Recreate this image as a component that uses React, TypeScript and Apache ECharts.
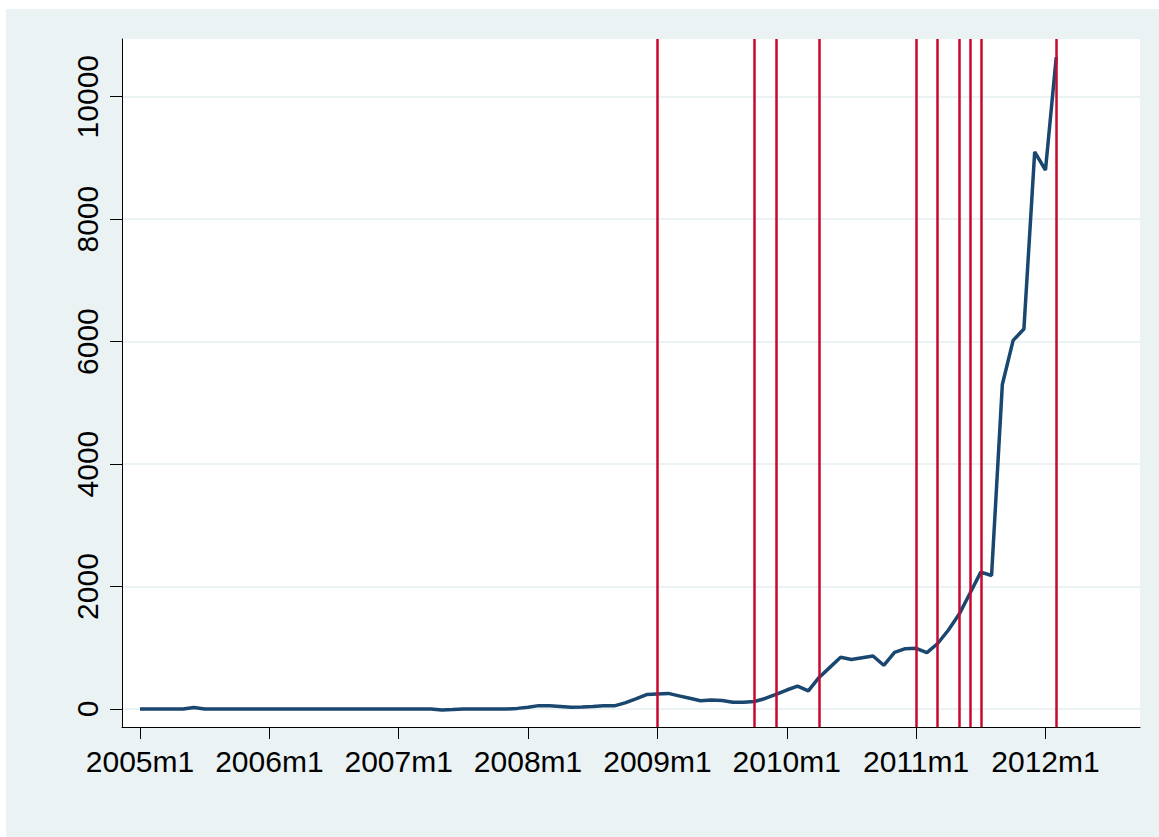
import React, { useEffect, useRef } from "react";
import * as echarts from "echarts";

// Monthly series, 2005m1 .. 2012m2 (index 0 = 2005m1)
const values2005 = [0, 0, 0, 0, 0, 25, 0, 0, 0, 0, 0, 0];
const values2006 = [0, 0, 0, 0, 0, 0, 0, 0, 0, 0, 0, 0];
const values2007 = [0, 0, 0, 0, -18, -10, 0, 0, 0, 0, 0, 10];
const values2008 = [30, 55, 55, 42, 28, 32, 40, 52, 52, 100, 165, 235];
const values2009 = [245, 255, 215, 175, 135, 145, 140, 110, 110, 122, 172, 240];
const values2010 = [310, 375, 297, 515, 680, 845, 808, 838, 865, 714, 925, 985];
const values2011 = [992, 920, 1070, 1290, 1550, 1890, 2235, 2180, 5300, 6020, 6205, 9100];
const values2012 = [8800, 10645];

const seriesValues = [
  ...values2005,
  ...values2006,
  ...values2007,
  ...values2008,
  ...values2009,
  ...values2010,
  ...values2011,
  ...values2012,
];

// vertical reference lines (month index)
const xLineMonths = [48, 57, 59, 63, 72, 74, 76, 77, 78, 85];

// tick values / labels
const xTickValues = [0, 12, 24, 36, 48, 60, 72, 84];
const xTickLabels = ["2005m1", "2006m1", "2007m1", "2008m1", "2009m1", "2010m1", "2011m1", "2012m1"];
const yTickValues = [0, 2000, 4000, 6000, 8000, 10000];
const yTickLabels = ["0", "2000", "4000", "6000", "8000", "10000"];

const X_MIN = -1.67;
const X_MAX = 92.77;
const Y_MIN = -294;
const Y_MAX = 10942;

const FONT = "'Liberation Sans', Arial, sans-serif";

export default function App() {
  const ref = useRef<HTMLDivElement>(null);

  useEffect(() => {
    document.body.style.margin = "0";
    if (!ref.current) return;
    const chart = echarts.init(ref.current, null, { renderer: "svg" });
    const lineData = seriesValues.map((v, i) => [i, v]);
    chart.setOption({
      animation: false,
      backgroundColor: "#EAF2F3",
      grid: {
        left: 116,
        top: 30,
        width: 1018,
        height: 688,
        show: true,
        backgroundColor: "#ffffff",
        borderWidth: 0,
      },
      xAxis: {
        type: "value",
        min: X_MIN,
        max: X_MAX,
        axisLine: { show: true, onZero: false, lineStyle: { color: "#000", width: 1 } },
        axisTick: {
          show: true,
          length: 12,
          customValues: xTickValues,
          lineStyle: { color: "#000", width: 1 },
        },
        axisLabel: {
          customValues: xTickValues,
          formatter: (v: number) => {
            const i = xTickValues.indexOf(Math.round(v));
            return i >= 0 ? xTickLabels[i] : "";
          },
          fontSize: 30,
          fontFamily: FONT,
          color: "#000",
          margin: 19,
        },
        splitLine: { show: false },
      },
      yAxis: {
        type: "value",
        min: Y_MIN,
        max: Y_MAX,
        axisLine: { show: true, onZero: false, lineStyle: { color: "#000", width: 1 } },
        axisTick: {
          show: true,
          length: 12,
          customValues: yTickValues,
          lineStyle: { color: "#000", width: 1 },
        },
        axisLabel: {
          customValues: yTickValues,
          formatter: (v: number) => {
            const i = yTickValues.indexOf(Math.round(v));
            return i >= 0 ? yTickLabels[i] : "";
          },
          rotate: 90,
          fontSize: 30,
          fontFamily: FONT,
          color: "#000",
          margin: 20,
        },
        splitLine: { show: true, lineStyle: { color: "#EAF2F3", width: 2 } },
      },
      series: [
        {
          type: "line",
          data: [],
          z: 1,
          silent: true,
          markLine: {
            silent: true,
            symbol: ["none", "none"],
            label: { show: false },
            emphasis: { disabled: true },
            lineStyle: { color: "#C8082F", width: 2.5, type: "solid" },
            data: xLineMonths.map((m) => ({ xAxis: m })),
          },
        },
        {
          type: "line",
          data: lineData,
          z: 3,
          showSymbol: false,
          symbol: "none",
          silent: true,
          lineStyle: { color: "#1A476F", width: 3.5 },
        },
      ],
    });
    return () => chart.dispose();
  }, []);

  return (
    <div style={{ position: "relative", width: 1159, height: 837, background: "#fff" }}>
      <div
        ref={ref}
        style={{ position: "absolute", left: 6, top: 9, width: 1153, height: 828 }}
      />
    </div>
  );
}
